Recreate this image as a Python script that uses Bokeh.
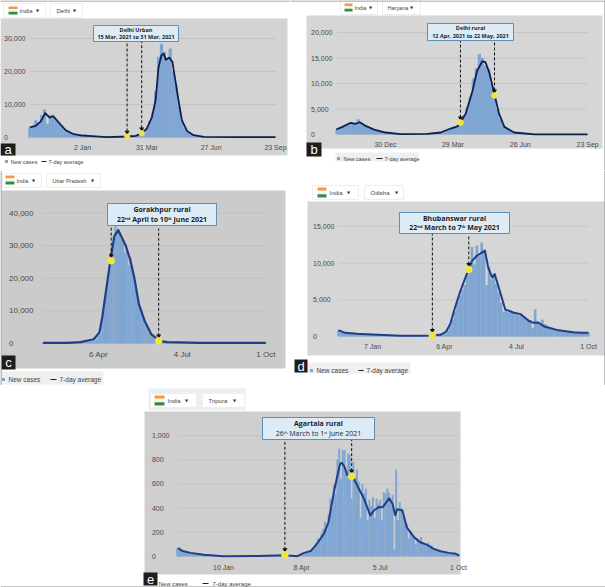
from bokeh.embed import file_html
from bokeh.layouts import column, row
from bokeh.models import BoxAnnotation, FixedTicker, Label, Range1d
from bokeh.plotting import figure
from bokeh.resources import INLINE

# ---------- panel a (Delhi) ----------
a_avg_days = [-72,-64,-57,-51,-45,-40,-32,-23,-12,0,13,34,61,73,81,88,95,100,104,108,111,114,119,123,127,132,136,143,152,166,207,264]
a_avg = [3100,3500,4900,7400,6000,6500,4400,2200,1000,600,400,120,300,500,1300,2700,6200,11300,21300,24900,25400,23600,24200,22900,17300,10300,5200,2000,700,200,120,100]
a_new = [3000,3400,5200,4600,6800,8500,4200,6900,6200,5600,
         4800,3600,2700,2100,1600,1200,900,750,650,800,
         550,500,450,350,300,250,220,200,200,180,
         170,190,200,280,330,400,500,800,1200,2000,
         2700,5000,7500,14000,24500,28400,26000,23500,27000,20000,
         16000,9500,5000,2800,1600,1000,700,500,350,280,
         220,180,160,150,140,130,130,120,120,110,
         110,100,100,90,90,80,80,70,70,60,
         60,50,50,40,40]
a_ticks = [0,88,176,264]
a_tick_labels = ["2 Jan","31 Mar","27 Jun","23 Sep"]
a_y_ticks = [0,10000,20000,30000]
a_marks_x = [61,81]
a_marks_y = [300,1300]

# ---------- panel b (Delhi rural) ----------
b_avg_days = [-65,-57,-46,-40,-34,-27,-15,0,20,55,73,86,95,99,106,115,121,128,132,137,144,150,157,170,197,267]
b_avg = [970,1500,2300,2100,2400,1750,970,390,60,130,390,1170,1600,2340,4100,8600,12500,14350,14200,12200,7850,4100,1500,390,40,20]
b_new = [950,1300,1500,1800,2200,2400,2200,3000,2300,1900,
         1500,1200,1000,800,650,500,420,320,250,180,
         130,90,60,60,50,60,60,70,90,110,
         140,180,240,300,400,520,750,1000,1300,1500,
         1700,2500,3800,5400,7400,11000,13000,15800,15000,13500,
         12800,10000,7600,5000,3000,1800,1200,800,500,350,
         250,200,150,100,80,60,50,40,40,35,
         35,30,30,30,25,25,25,20,20,20,
         20,15,15,15]
b_ticks = [0,89,178,267]
b_tick_labels = ["30 Dec","29 Mar","26 Jun","23 Sep"]
b_y_ticks = [0,5000,10000,15000,20000]
b_marks_x = [99,144]
b_marks_y = [2340,7660]

# ---------- panel c (Gorakhpur rural) ----------
c_avg_days = [-59,-33,-19,-5,1,4,9,13,17,21,24,29,34,38,43,49,56,65,73,109,178]
c_avg = [200,200,400,1300,3400,8000,18200,26200,33000,34800,33000,30000,25400,20300,12100,7000,2900,800,400,200,200]
c_new = [150,160,150,170,180,170,180,190,180,200,
         200,190,210,220,210,230,240,250,240,260,
         300,320,350,400,500,600,700,800,1000,1300,
         2400,3000,7000,10500,15000,19500,24500,29000,33000,38000,
         35000,34000,32000,31000,28000,29000,24000,26500,23000,19500,
         16500,14000,11500,9500,7500,6000,4700,3400,2600,2000,
         1500,1100,900,700,550,450,400,350,330,300,
         280,270,260,250,240,230,230,220,220,210,
         200,200,190,190,190,180,180,180,170,170,
         170,170,160,160,160,150,150,150,150,140,
         140,140,130,130,130,120,120,120,120,110,
         110,110,100,100,100,100,90,90,90,90]
c_ticks = [0,89,178]
c_tick_labels = ["6 Apr","4 Jul","1 Oct"]
c_y_ticks = [0,10000,20000,30000,40000]
c_marks_x = [13.5,64]
c_marks_y = [25400,820]

# ---------- panel d (Bhubanswar rural) ----------
d_avg_days = [-42,-34,-19,0,34,59,74,84,91,96,102,108,115,119,123,129,139,143,148,151,156,164,174,183,193,199,205,213,228,248,257,267]
d_avg = [860,500,360,270,90,90,136,230,680,1680,3950,6000,8050,9180,10300,11000,11700,9400,8050,8500,6700,3700,3270,3050,2140,1860,1900,1320,900,590,500,500]
d_new = [900,640,520,480,450,420,400,380,370,350,
         330,320,300,280,270,250,230,220,200,180,
         170,150,130,120,110,100,95,90,85,85,
         80,90,95,90,85,80,90,100,120,130,
         150,180,220,300,500,800,1400,2300,3400,4700,
         5600,6300,7000,8300,9600,12200,9800,12400,11000,12800,
         11800,7000,9500,7800,8400,7200,6000,4600,3400,3600,
         3300,3500,3200,3100,3000,2900,2600,2500,2400,2200,
         1200,3700,2000,1800,2300,1700,1500,1300,1200,1100,
         1000,900,850,800,700,750,650,680,600,550,
         500,550,480,520]
d_ticks = [0,89,178,267]
d_tick_labels = ["7 Jan","6 Apr","4 Jul","1 Oct"]
d_y_ticks = [0,5000,10000,15000]
d_marks_x = [74,119]
d_marks_y = [136,9140]

# ---------- panel e (Agartala rural) ----------
e_avg_days = [-51,-46,-37,-22,0,38,69,83,90,98,105,113,118,124,128,131,133,136,139,145,150,158,165,169,175,179,186,190,193,195,201,206,214,221,229,236,244,253,261,265]
e_avg = [70,45,30,14,3,5,10,3,28,45,105,190,285,530,670,765,775,740,675,665,590,475,340,380,410,408,480,435,340,390,380,240,160,118,96,63,44,30,22,8]
e_new = [70,65,45,40,38,35,32,30,28,27,25,22,
         20,18,16,15,14,13,12,10,10,8,
         8,7,6,6,5,5,5,4,4,4,5,6,8,10,12,12,10,8,8,6,5,4,4,3,4,3,3,3,3,4,3,4,5,4,3,4,3,3,4,
         5,6,5,8,10,8,12,10,20,15,
         35,28,45,30,55,65,90,115,150,135,190,230,290,220,350,480,400,600,520,800,890,640,880,880,
         700,850,840,480,780,660,720,620,320,600,520,560,300,470,420,490,320,480,440,470,300,530,520,560,530,480,510,60,
         720,300,450,400,330,280,270,150,210,190,170,100,150,120,160,120,110,90,115,75,90,60,70,50,55,40,45,30,35,28,28,22,25,18,20,12]
e_ticks = [0,88,176,264]
e_tick_labels = ["10 Jan","8 Apr","5 Jul","1 Oct"]
e_y_ticks = [0,200,400,600,800,1000]
e_marks_x = [69,144]
e_marks_y = [14,664]

FONT = "Liberation Sans"
BOX_FONT = "Open Sans"
BAR = "#7fa5d2"
FIG_SP = "\u2007"
PUNCT_SP = "\u2008"


def y_label(v, longest):
    s = f"{v:,}"
    pad = len(longest.replace(",", "")) - len(s.replace(",", ""))
    commas = longest.count(",") - s.count(",")
    return s + FIG_SP * pad + PUNCT_SP * commas


class Panel:
    def __init__(self, org, size, grey, grey_col, grid_col, left, right, tick0, ppd, y0, ppu, days_start, step,
                 new, avg_d, avg, ticks, labels, yticks, avg_col, lw, tick_fs, lbl_right, x_lbl_y):
        self.ox, self.oy = ox, oy = org
        w, h = size
        self.y0, self.ppu = y0, ppu
        x_l = (left - tick0) / ppd
        x_r = (right - tick0) / ppd
        p = figure(width=w, height=h, output_backend="svg", toolbar_location=None,
                   x_range=Range1d((ox - tick0) / ppd, (ox + w - tick0) / ppd),
                   y_range=Range1d((y0 - (oy + h)) / ppu, (y0 - oy) / ppu),
                   min_border_left=0, min_border_right=0, min_border_top=0, min_border_bottom=0,
                   background_fill_color="white", border_fill_color="white", outline_line_color=None)
        self.p = p
        p.xgrid.visible = False
        p.ygrid.visible = False
        ax = p.xaxis[0]
        ay = p.yaxis[0]
        ax.fixed_location = 0
        ay.fixed_location = x_l
        ax.ticker = FixedTicker(ticks=ticks)
        ax.major_label_overrides = dict(zip(ticks, labels))
        ay.ticker = FixedTicker(ticks=yticks)
        longest = f"{max(yticks):,}"
        ay.major_label_overrides = {v: y_label(v, longest) for v in yticks}
        for a_ in (ax, ay):
            a_.axis_line_color = None
            a_.major_tick_line_color = None
            a_.minor_tick_line_color = None
            a_.major_tick_in = 0
            a_.major_tick_out = 0
            a_.major_label_text_font = FONT
            a_.major_label_text_font_size = f"{tick_fs}px"
            a_.major_label_text_color = "#4a4a4a"
        ax.major_label_standoff = x_lbl_y - y0 - tick_fs // 2
        ay.major_label_standoff = left - lbl_right

        self.rect(*grey, grey_col, level="image")
        p.segment(x0=[x_l] * len(yticks), y0=yticks, x1=[x_r] * len(yticks), y1=yticks, line_color=grid_col, line_width=1)
        days = [days_start + step * i for i in range(len(new))]
        p.vbar(x=days, top=new, bottom=0, width=step * 1.08, fill_color=BAR, line_color=None)
        p.line(avg_d, avg, line_color=avg_col, line_width=lw, line_join="round")

    def val_at(self, py):
        return (self.y0 - py) / self.ppu

    def rect(self, x0, y0_, x1, y1, col, level="annotation", line=None):
        self.p.add_layout(BoxAnnotation(left=x0 - self.ox, right=x1 - self.ox, top=y0_ - self.oy, bottom=y1 - self.oy,
                                        left_units="canvas", right_units="canvas", top_units="canvas", bottom_units="canvas",
                                        fill_color=col, fill_alpha=1, line_color=line, line_alpha=1 if line else 0,
                                        level=level, editable=False))

    def text(self, x, y, s, fs=7, col="#444444", font=FONT, style="normal", align="left"):
        self.p.add_layout(Label(x=x - self.ox, y=y - self.oy, x_units="canvas", y_units="canvas", text=s,
                                text_font=font, text_font_size=f"{fs}px", text_color=col, text_font_style=style,
                                text_align=align, text_baseline="middle", level="overlay"))

    def extras(self, mx, my, tops, dot, box, title, sub, sub_bold, bfs,
               flag, india_x, ar1, state, state_x, ar2, pill_y, pills, pill_fs,
               letter_box, letter, legend_bg, legend_y, dot_x, new_x, ln, avg_x, leg_fs):
        p, rect, text = self.p, self.rect, self.text
        for x, y, t in zip(mx, my, tops):
            p.segment(x0=[x], y0=[y], x1=[x], y1=[self.val_at(t)], line_color="#111111", line_width=1, line_dash="3 2")
            p.scatter([x], [y + (dot / 2 + 1.5) / self.ppu], marker="inverted_triangle", size=5,
                      fill_color="#111111", line_color=None)
        p.scatter(mx, my, size=dot, fill_color="#f4e52c", line_color="#e6e6a0", line_width=0.5)
        bl, bt, br, bb = box
        rect(bl, bt, br, bb, "#dcebf6", line="#5f8fb5")
        cx = (bl + br) / 2
        h = (bb - bt) / 4
        text(cx, bt + h * 1.05, title, fs=bfs, col="#1c1c1c", font=BOX_FONT, style="bold", align="center")
        text(cx, bt + h * 2.95, sub, fs=bfs, col="#1c1c1c", font=BOX_FONT, style="bold" if sub_bold else "normal", align="center")
        for (x0, x1) in pills:
            rect(x0, pill_y - 7, x1, pill_y + 7, "#ffffff", line="#eeeeee", level="image")
        fx0, fy0, fx1, fy1 = flag
        fh = (fy1 - fy0) / 3
        rect(fx0, fy0, fx1, fy0 + fh, "#f2994a")
        rect(fx0, fy0 + fh, fx1, fy0 + 2 * fh, "#f5f5f5")
        rect(fx0, fy0 + 2 * fh, fx1, fy1, "#2f8f46")
        text(india_x, pill_y, "India", fs=pill_fs)
        text(ar1, pill_y, "▼", fs=4, font="DejaVu Sans", col="#333333", align="center")
        text(state_x, pill_y, state, fs=pill_fs)
        text(ar2, pill_y, "▼", fs=4, font="DejaVu Sans", col="#333333", align="center")
        lx0, ly0, lx1, ly1 = letter_box
        rect(lx0, ly0, lx1, ly1, "#1d1d1d")
        text((lx0 + lx1) / 2, (ly0 + ly1) / 2, letter, fs=13, col="#ffffff", align="center")
        if legend_bg:
            rect(*legend_bg, "#efefef", level="image")
        if dot_x is not None:
            rect(dot_x - 1.5, legend_y - 1.5, dot_x + 1.5, legend_y + 1.5, BAR)
        text(new_x, legend_y, "New cases", fs=leg_fs)
        rect(ln[0], legend_y - 0.5, ln[1], legend_y + 0.5, "#222222")
        text(avg_x, legend_y, "7-day average", fs=leg_fs)


pa = Panel((0, 0), (290, 170), (0, 18, 287, 155), "#d3d3d3", "#c3c3c3", 29, 275, 82, 0.731, 137, 33 / 10000,
           -72, 4, a_new, a_avg_days, a_avg, a_ticks, a_tick_labels, a_y_ticks, "#0e1f52", 1.8, 7, 25, 146)
pa.extras(a_marks_x, a_marks_y, (41, 41), 5.5, (93, 25, 178, 41),
          "Delhi Urban", "15 Mar, 2021 to 31 Mar, 2021", True, 5.5,
          (8, 6, 17, 14), 19, 37, "Delhi", 56, 74, 10, [(3, 45), (50, 82)], 6,
          (0, 143, 15, 155), "a", None, 161, 6, 10, (41, 46), 48, 5.5)
pa.rect(0, 0, 290, 1, "#8a8a8a")

pb = Panel((290, 0), (315, 170), (306, 15, 602, 148), "#d6d6d6", "#c6c6c6", 336, 587, 385, 0.757, 134, 25.5 / 5000,
           -64, 4, b_new, b_avg_days, b_avg, b_ticks, b_tick_labels, b_y_ticks, "#0e1f52", 1.8, 7, 332, 143)
pb.extras(b_marks_x, b_marks_y, (40, 40), 6, (427, 23, 513, 40),
          "Delhi rural", "12 Apr, 2021 to 22 May, 2021", True, 5.5,
          (344, 3, 352, 11), 354, 370, "Haryana", 387, 411, 7, [(340, 377), (382, 420)], 5.5,
          (306, 142, 321, 156), "b", (335, 152, 418, 161), 158, 338, 343, (376, 382), 384, 5.5)
pb.rect(290, 0, 605, 1, "#8a8a8a")
pb.rect(604, 0, 605, 170, "#8a8a8a")

pc = Panel((0, 170), (290, 215), (1, 190, 285, 368), "#cbcbcb", "#c0c0c0", 42, 265, 98, 0.94, 343, 32.6 / 10000,
           -60, 2, c_new, c_avg_days, c_avg, c_ticks, c_tick_labels, c_y_ticks, "#1c3f88", 2.2, 8, 33, 353)
pc.extras(c_marks_x, c_marks_y, (225, 228), 7, (107, 203, 216, 225),
          "Gorakhpur rural", "22ⁿᵈ April to 10ᵗʰ June 2021", True, 7,
          (5, 175, 14, 184), 16, 33, "Uttar Pradesh", 52, 92, 180, [(2, 41), (46, 100)], 5.5,
          (1, 355, 15, 369), "c", (0, 371, 103, 384), 379, 3, 8, (50, 56), 59, 6.5)
pc.rect(0, 170, 1, 385, "#8a8a8a")

pd_ = Panel((290, 170), (315, 215), (307, 201, 605, 355), "#d6d6d6", "#c8c8c8", 338, 588, 372, 0.809, 336, 36.7 / 5000,
            -42, 3, d_new, d_avg_days, d_avg, d_ticks, d_tick_labels, d_y_ticks, "#1c3f88", 2, 7, 334, 345)
pd_.extras(d_marks_x, d_marks_y, (233, 235), 7, (399, 212, 509, 233),
           "Bhubanswar rural", "22ⁿᵈ March to 7ᵗʰ May 2021", True, 7,
           (317, 187, 326, 197), 329, 348, "Odisha", 370, 396, 192, [(312, 358), (364, 403)], 6,
           (294, 359, 307, 372), "d", (307, 362, 410, 373), 370, 311, 316, (358, 363), 366, 6.5)
pd_.rect(604, 170, 605, 385, "#8a8a8a")

pe = Panel((0, 385), (605, 202), (144, 411, 460, 574), "#cfcfcf", "#c4c4c4", 177, 458, 223, 0.89, 556, 24.2 / 200,
           -52, 2, e_new, e_avg_days, e_avg, e_ticks, e_tick_labels, e_y_ticks, "#1c3f88", 2, 7, 169, 566)
pe.rect(148, 388, 245, 410, "#efefef", level="image")
pe.extras(e_marks_x, e_marks_y, (439, 439), 7, (262, 417, 374, 439),
          "Agartala rural", "26ᵗʰ March to 1ˢᵗ June 2021", False, 7,
          (154, 395, 164, 405), 167, 186, "Tripura", 208, 234, 400, [(150, 196), (202, 244)], 6,
          (143, 572, 157, 585), "e", None, 583, None, 158, (202, 208), 212, 6)
pe.rect(0, 586, 605, 587, "#8a8a8a")

root = column(row(column(pa.p, pc.p, spacing=0), column(pb.p, pd_.p, spacing=0), spacing=0), pe.p, spacing=0)
open("out.html", "w").write(file_html(root, INLINE))
